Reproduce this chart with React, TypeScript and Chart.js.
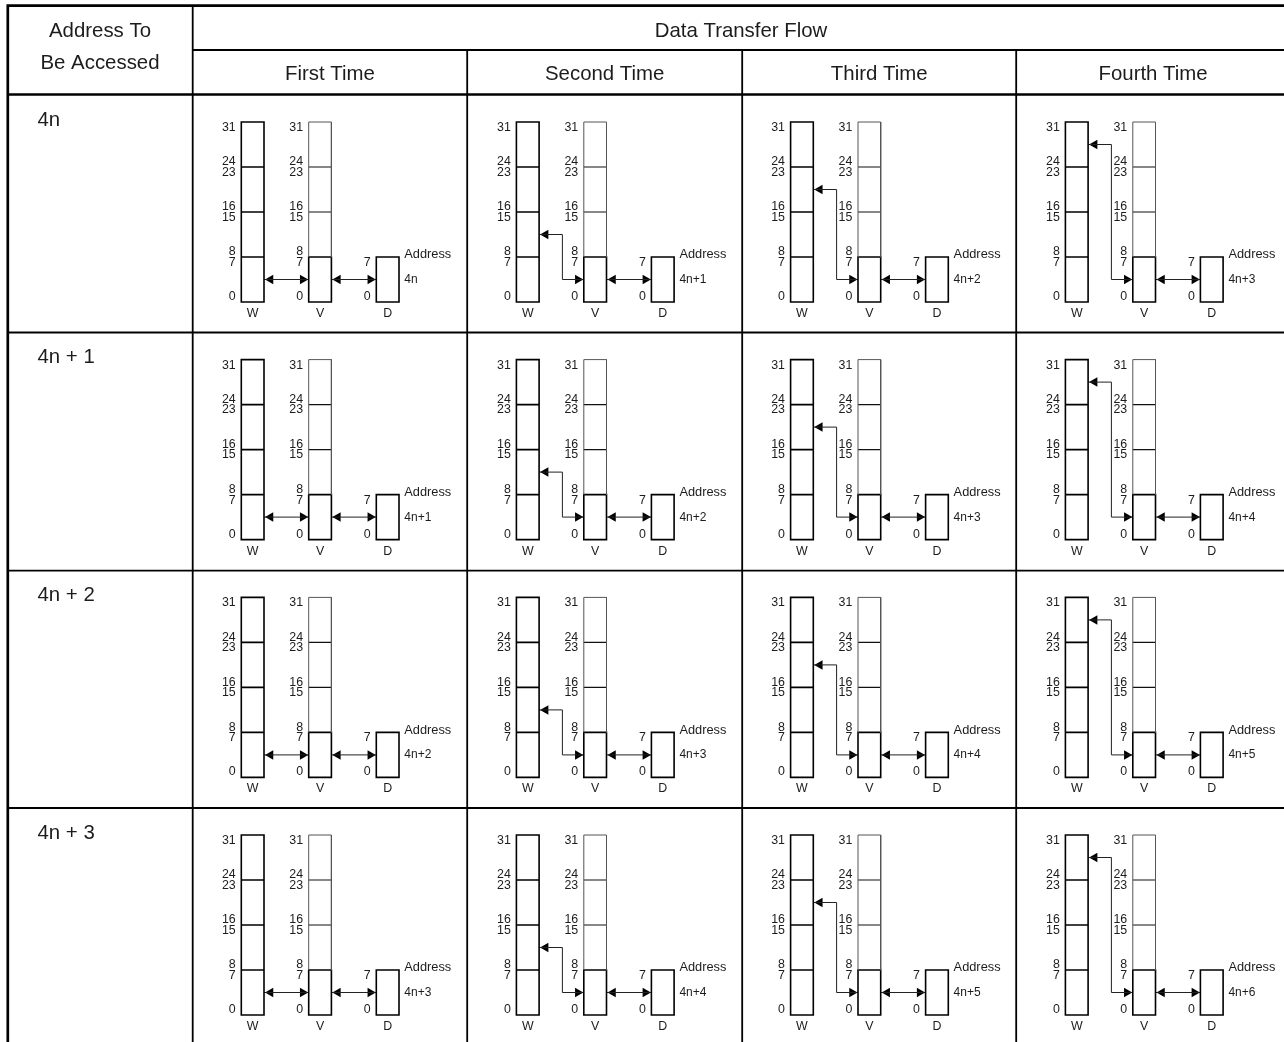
import React, { useEffect, useRef } from "react";
import { Chart, registerables } from "chart.js";

Chart.register(...registerables);

// ---- content ----
const rowLabels = ["4n", "4n + 1", "4n + 2", "4n + 3"];
const columnTitles = ["First Time", "Second Time", "Third Time", "Fourth Time"];
const addressLabels = [
  ["4n", "4n+1", "4n+2", "4n+3"],
  ["4n+1", "4n+2", "4n+3", "4n+4"],
  ["4n+2", "4n+3", "4n+4", "4n+5"],
  ["4n+3", "4n+4", "4n+5", "4n+6"],
];
// bit of register W that each transfer reaches from register V (none on the first time)
const transferBits = [null, 12, 20, 28];
const registerBitBoundaries = [32, 24, 16, 8, 0];
const bitLabels = [
  ["31", 31],
  ["24", 24.9],
  ["23", 23.05],
  ["16", 16.9],
  ["15", 15.05],
  ["8", 8.9],
  ["7", 7],
  ["0", 0.95],
];
const dataBitLabels = [
  ["7", 7],
  ["0", 0.95],
];

// ---- layout on the page-sized scales ----
const PAGE_W = 1284;
const PAGE_H = 1042;
const TABLE_LEFT = 7.8;
const TABLE_TOP = 5.6;
const FIRST_DIVIDER = 192.7;
const columnLines = [467.2, 742.2, 1016.2];
const headerLines = [50, 94.5];
const rowLines = [332.5, 570.6, 808];
const registerColumns = [241.3, 516.4, 790.6, 1065.4];
const rowBottoms = [302, 539.6, 777.4, 1015];
const BIT_H = 5.625;
const BOX_W = 22.7;
const V_OFFSET = 67.4;
const D_OFFSET = 135;
const ELBOW_OFFSET = 46;
const HEAD_R = 5.5;

type P = { x: number | null; y: number | null };
const GAP: P = { x: null, y: null };
const seg = (out: P[], ...pts: number[][]) => {
  pts.forEach(([x, y]) => out.push({ x, y }));
  out.push(GAP);
};

const tableHeavy: P[] = [];
const tableLight: P[] = [];
const boxHeavy: P[] = [];
const boxLight: P[] = [];
const boxFaint: P[] = [];
const wires: P[] = [];
const headsRight: P[] = [];
const headsLeft: P[] = [];

seg(tableHeavy, [TABLE_LEFT, PAGE_H], [TABLE_LEFT, TABLE_TOP], [PAGE_W, TABLE_TOP]);
seg(tableHeavy, [TABLE_LEFT, headerLines[1]], [PAGE_W, headerLines[1]]);
seg(tableLight, [FIRST_DIVIDER, TABLE_TOP], [FIRST_DIVIDER, PAGE_H]);
seg(tableLight, [FIRST_DIVIDER, headerLines[0]], [PAGE_W, headerLines[0]]);
columnLines.forEach((x) => seg(tableLight, [x, headerLines[0]], [x, PAGE_H]));
rowLines.forEach((y) => seg(tableLight, [TABLE_LEFT, y], [PAGE_W, y]));

const bitY = (bottom: number, bit: number) => bottom - bit * BIT_H;

rowBottoms.forEach((bottom) => {
  const wireY = bitY(bottom, 4);
  registerColumns.forEach((wx, c) => {
    const vx = wx + V_OFFSET;
    const dx = wx + D_OFFSET;
    const top = bitY(bottom, 32);
    const byteTop = bitY(bottom, 8);
    // register W
    seg(boxHeavy, [wx, bottom], [wx, top], [wx + BOX_W, top], [wx + BOX_W, bottom], [wx, bottom]);
    registerBitBoundaries.slice(1, 4).forEach((b) => {
      seg(boxHeavy, [wx, bitY(bottom, b)], [wx + BOX_W, bitY(bottom, b)]);
    });
    // register V: light upper part, bold low byte
    seg(boxFaint, [vx, byteTop], [vx, top], [vx + BOX_W, top], [vx + BOX_W, byteTop]);
    registerBitBoundaries.slice(1, 3).forEach((b) => {
      seg(boxLight, [vx, bitY(bottom, b)], [vx + BOX_W, bitY(bottom, b)]);
    });
    seg(boxHeavy, [vx, byteTop], [vx + BOX_W, byteTop], [vx + BOX_W, bottom], [vx, bottom], [vx, byteTop]);
    // register D
    seg(boxHeavy, [dx, byteTop], [dx + BOX_W, byteTop], [dx + BOX_W, bottom], [dx, bottom], [dx, byteTop]);
    // V <-> D
    seg(wires, [vx + BOX_W, wireY], [dx, wireY]);
    headsLeft.push({ x: vx + BOX_W + 1 + HEAD_R, y: wireY });
    headsRight.push({ x: dx - 0.5 - HEAD_R, y: wireY });
    const bit = transferBits[c];
    if (bit === null) {
      // W <-> V
      seg(wires, [wx + BOX_W, wireY], [vx, wireY]);
      headsLeft.push({ x: wx + BOX_W + 1 + HEAD_R, y: wireY });
      headsRight.push({ x: vx - 0.5 - HEAD_R, y: wireY });
    } else {
      const targetY = bitY(bottom, bit);
      const ex = wx + ELBOW_OFFSET;
      seg(wires, [vx, wireY], [ex, wireY], [ex, targetY], [wx + BOX_W, targetY]);
      headsLeft.push({ x: wx + BOX_W + 1 + HEAD_R, y: targetY });
      headsRight.push({ x: vx - 0.5 - HEAD_R, y: wireY });
    }
  });
});

const FONT = '"Liberation Sans", Arial, sans-serif';
const INK = "#1c1c1c";

type T = { t: string; x: number; y: number; size: number; align: CanvasTextAlign };
const texts: T[] = [];
texts.push({ t: "Address To", x: 100, y: 31, size: 20.4, align: "center" });
texts.push({ t: "Be Accessed", x: 100, y: 63, size: 20.4, align: "center" });
texts.push({ t: "Data Transfer Flow", x: 741, y: 31, size: 20.4, align: "center" });
columnTitles.forEach((t, c) => {
  const left = c === 0 ? FIRST_DIVIDER : columnLines[c - 1];
  const right = c === 3 ? 1290 : columnLines[c];
  texts.push({ t, x: (left + right) / 2, y: 74.5, size: 20.4, align: "center" });
});
rowLabels.forEach((t, r) => {
  texts.push({ t, x: 37.5, y: rowBottoms[r] - 182, size: 20.4, align: "left" });
  registerColumns.forEach((wx, c) => {
    const bottom = rowBottoms[r];
    bitLabels.forEach(([label, bit]) => {
      const y = bitY(bottom, bit as number);
      texts.push({ t: label as string, x: wx - 5.6, y, size: 12.4, align: "right" });
      texts.push({ t: label as string, x: wx + V_OFFSET - 5.6, y, size: 12.4, align: "right" });
    });
    dataBitLabels.forEach(([label, bit]) => {
      texts.push({ t: label as string, x: wx + D_OFFSET - 5.6, y: bitY(bottom, bit as number), size: 12.4, align: "right" });
    });
    texts.push({ t: "Address", x: wx + D_OFFSET + 28, y: bottom - 47.2, size: 12.8, align: "left" });
    texts.push({ t: addressLabels[r][c], x: wx + D_OFFSET + 28, y: bottom - 22.3, size: 12, align: "left" });
    [["W", 0], ["V", V_OFFSET], ["D", D_OFFSET]].forEach(([t, off]) => {
      texts.push({ t: t as string, x: wx + (off as number) + BOX_W / 2, y: bottom + 11.6, size: 12.4, align: "center" });
    });
  });
});

const textPlugin = {
  id: "diagramText",
  afterDatasetsDraw(chart: any) {
    const { ctx, scales } = chart;
    ctx.save();
    ctx.fillStyle = INK;
    ctx.textBaseline = "middle";
    texts.forEach((k) => {
      ctx.font = `${k.size}px ${FONT}`;
      ctx.textAlign = k.align;
      ctx.fillText(k.t, scales.x.getPixelForValue(k.x), scales.y.getPixelForValue(k.y));
    });
    ctx.restore();
  },
};

const stroke = (data: P[], color: string, width: number, cap = "square") => ({
  type: "scatter" as const,
  data,
  showLine: true,
  spanGaps: false,
  tension: 0,
  borderColor: color,
  borderWidth: width,
  borderCapStyle: cap,
  borderJoinStyle: "miter",
  pointRadius: 0,
  pointHoverRadius: 0,
  clip: false,
});

const heads = (data: P[], rotation: number) => ({
  type: "scatter" as const,
  data,
  showLine: false,
  pointStyle: "triangle",
  pointRadius: HEAD_R,
  pointRotation: rotation,
  pointBackgroundColor: "#000",
  pointBorderColor: "#000",
  pointBorderWidth: 0,
  clip: false,
});

export default function App() {
  const ref = useRef<HTMLCanvasElement>(null);
  useEffect(() => {
    if (!ref.current) return;
    const chart = new Chart(ref.current, {
      type: "scatter",
      data: {
        datasets: [
          stroke(tableLight, "#000", 1.8, "butt"),
          stroke(tableHeavy, "#000", 2.7, "butt"),
          stroke(boxFaint, "#555", 1),
          stroke(boxLight, "#111", 1.2, "butt"),
          stroke(boxHeavy, "#000", 1.6),
          stroke(wires, "#222", 1, "butt"),
          heads(headsRight, 90),
          heads(headsLeft, -90),
        ] as any,
      },
      options: {
        responsive: false,
        animation: false,
        devicePixelRatio: 1,
        layout: { padding: 0, autoPadding: false },
        plugins: { legend: { display: false }, tooltip: { enabled: false }, title: { display: false } },
        events: [],
        scales: {
          x: { type: "linear", min: 0, max: PAGE_W, display: false },
          y: { type: "linear", min: 0, max: PAGE_H, reverse: true, display: false },
        },
      } as any,
      plugins: [textPlugin],
    });
    return () => chart.destroy();
  }, []);
  return (
    <canvas
      ref={ref}
      width={PAGE_W}
      height={PAGE_H}
      style={{ position: "fixed", left: 0, top: 0, width: PAGE_W, height: PAGE_H, display: "block" }}
    />
  );
}
